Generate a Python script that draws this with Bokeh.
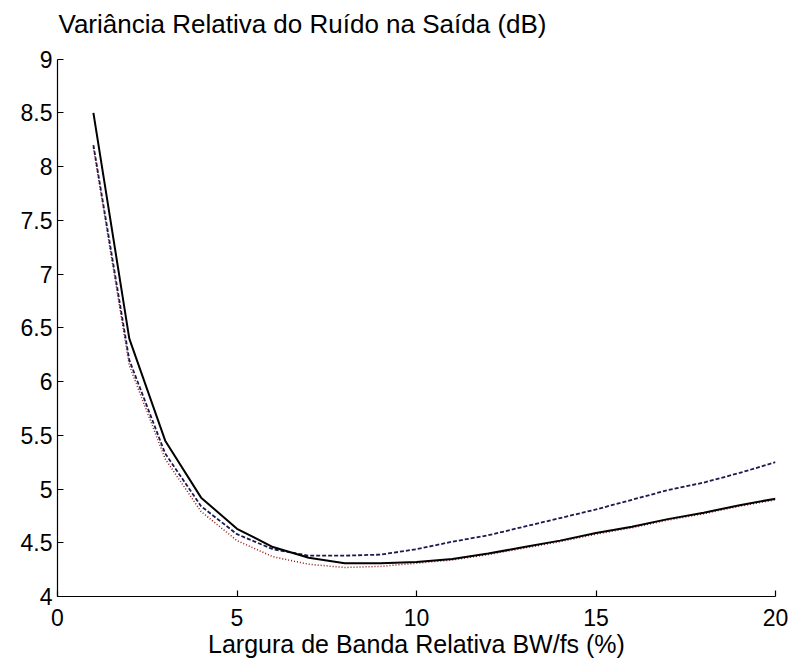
from bokeh.plotting import figure
from bokeh.models import FixedTicker, Range1d, Label
from bokeh.embed import file_html
from bokeh.resources import INLINE

# Data
x = list(range(1, 21))
solid = [8.50, 6.40, 5.45, 4.92, 4.63, 4.46, 4.36, 4.31, 4.31, 4.32,
         4.35, 4.40, 4.46, 4.52, 4.59, 4.65, 4.72, 4.78, 4.85, 4.91]
dashed = [8.20, 6.20, 5.33, 4.84, 4.58, 4.44, 4.38, 4.38, 4.39, 4.44,
          4.51, 4.57, 4.65, 4.73, 4.81, 4.90, 4.99, 5.06, 5.15, 5.25]
dotted = [8.18, 6.15, 5.28, 4.79, 4.52, 4.37, 4.30, 4.27, 4.28, 4.31,
          4.34, 4.39, 4.45, 4.51, 4.58, 4.64, 4.71, 4.77, 4.84, 4.90]

x_ticks = [0, 5, 10, 15, 20]
y_ticks = [4, 4.5, 5, 5.5, 6, 6.5, 7, 7.5, 8, 8.5, 9]
y_tick_labels = ["4", "4.5", "5", "5.5", "6", "6.5", "7", "7.5", "8", "8.5", "9"]

title_text = "Variância Relativa do Ruído na Saída (dB)"
xlabel_text = "Largura de Banda Relativa BW/fs (%)"

FONT = "Liberation Sans"
X_MIN, X_MAX = 0, 20
Y_MIN, Y_MAX = 4, 9
Y_VIEW_TOP = 9.5  # extra room above the axes for the title

p = figure(width=792, height=660, output_backend="svg", toolbar_location=None,
           x_range=Range1d(X_MIN, X_MAX), y_range=Range1d(Y_MIN, Y_VIEW_TOP),
           min_border_left=57, min_border_right=17, min_border_top=5, min_border_bottom=63)

p.outline_line_color = None
p.xgrid.visible = False
p.ygrid.visible = False
p.background_fill_color = "white"
p.border_fill_color = "white"

for ax in (p.xaxis[0], p.yaxis[0]):
    ax.axis_line_color = "black"
    ax.axis_line_width = 1.2
    ax.major_tick_in = 6
    ax.major_tick_out = 0
    ax.minor_tick_in = 0
    ax.minor_tick_out = 0
    ax.major_tick_line_color = "black"
    ax.major_tick_line_width = 1.2
    ax.major_label_text_font = FONT
    ax.major_label_text_font_size = "23px"
    ax.major_label_text_color = "black"

p.xaxis[0].bounds = (X_MIN, X_MAX)
p.yaxis[0].bounds = (Y_MIN, Y_MAX)
p.xaxis[0].ticker = FixedTicker(ticks=x_ticks)
p.yaxis[0].ticker = FixedTicker(ticks=y_ticks)
p.yaxis[0].major_label_overrides = {t: l for t, l in zip(y_ticks, y_tick_labels)}
p.xaxis[0].major_label_standoff = 12
p.yaxis[0].major_label_standoff = 5

p.xaxis[0].axis_label = xlabel_text
p.xaxis[0].axis_label_text_font = FONT
p.xaxis[0].axis_label_text_font_size = "25px"
p.xaxis[0].axis_label_text_font_style = "normal"
p.xaxis[0].axis_label_text_color = "black"
p.xaxis[0].axis_label_standoff = 1

# y-axis title placed above the axis (MATLAB-style)
p.add_layout(Label(x=X_MIN, y=Y_MAX, x_units="data", y_units="data",
                   x_offset=1, y_offset=35, text=title_text,
                   text_font=FONT, text_font_size="26px", text_color="black",
                   text_align="left", text_baseline="alphabetic"))

p.line(x, dotted, line_color="#8b1a1a", line_width=1.5, line_dash="1 2")
p.line(x, dashed, line_color="#1a1a50", line_width=1.8, line_dash="4 2")
p.line(x, solid, line_color="black", line_width=2)

open("out.html", "w").write(file_html(p, INLINE))
